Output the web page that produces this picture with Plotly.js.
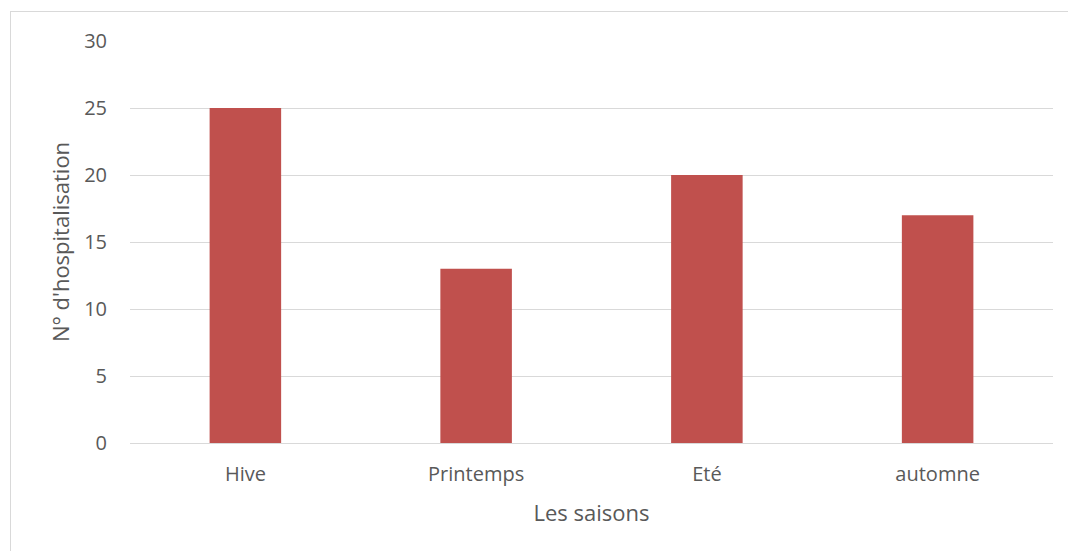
<!DOCTYPE html>
<html><head><meta charset="utf-8">
<script src="https://cdn.plot.ly/plotly-3.0.1.min.js"></script>
<style>
html,body{margin:0;padding:0;background:#fff;}
#chart{width:1068px;height:551px;}
#frame{position:absolute;left:10px;top:11px;width:1100px;height:600px;border-left:1px solid #d9d9d9;border-top:1px solid #d9d9d9;pointer-events:none;}
</style></head>
<body>
<div id="chart"></div>
<div id="frame"></div>
<script>
const categories = ["Hive", "Printemps", "Eté", "automne"];
const values = [25, 13, 20, 17];
const yTicks = [0, 5, 10, 15, 20, 25, 30];

const font = "Open Sans, Liberation Sans, sans-serif";
Plotly.newPlot("chart", [{
  type: "bar",
  x: categories,
  y: values,
  marker: {color: "#C0504D"},
  width: 0.31,
  hoverinfo: "x+y"
}], {
  width: 1068, height: 551,
  margin: {l: 130, r: 15, t: 41, b: 108},
  paper_bgcolor: "#fff", plot_bgcolor: "#fff",
  font: {family: font, color: "#595959", size: 20},
  showlegend: false,
  xaxis: {
    type: "category",
    showgrid: false, zeroline: false,
    showline: false,
    ticks: "", ticklabelstandoff: 17,
    tickfont: {size: 20, color: "#595959"},
    title: {text: "Les saisons", font: {size: 22, color: "#595959"}, standoff: 19}
  },
  yaxis: {
    range: [0, 30],
    tickvals: yTicks,
    ticktext: yTicks.map(String),
    showgrid: true, gridcolor: "#d9d9d9", gridwidth: 1,
    zeroline: true, zerolinecolor: "#d9d9d9", zerolinewidth: 1,
    showline: false, ticks: "", ticklabelstandoff: 22,
    tickfont: {size: 20, color: "#595959"},
    title: {text: "N° d'hospitalisation", font: {size: 22, color: "#595959"}, standoff: 8}
  }
}, {displayModeBar: false});
</script>
</body></html>
